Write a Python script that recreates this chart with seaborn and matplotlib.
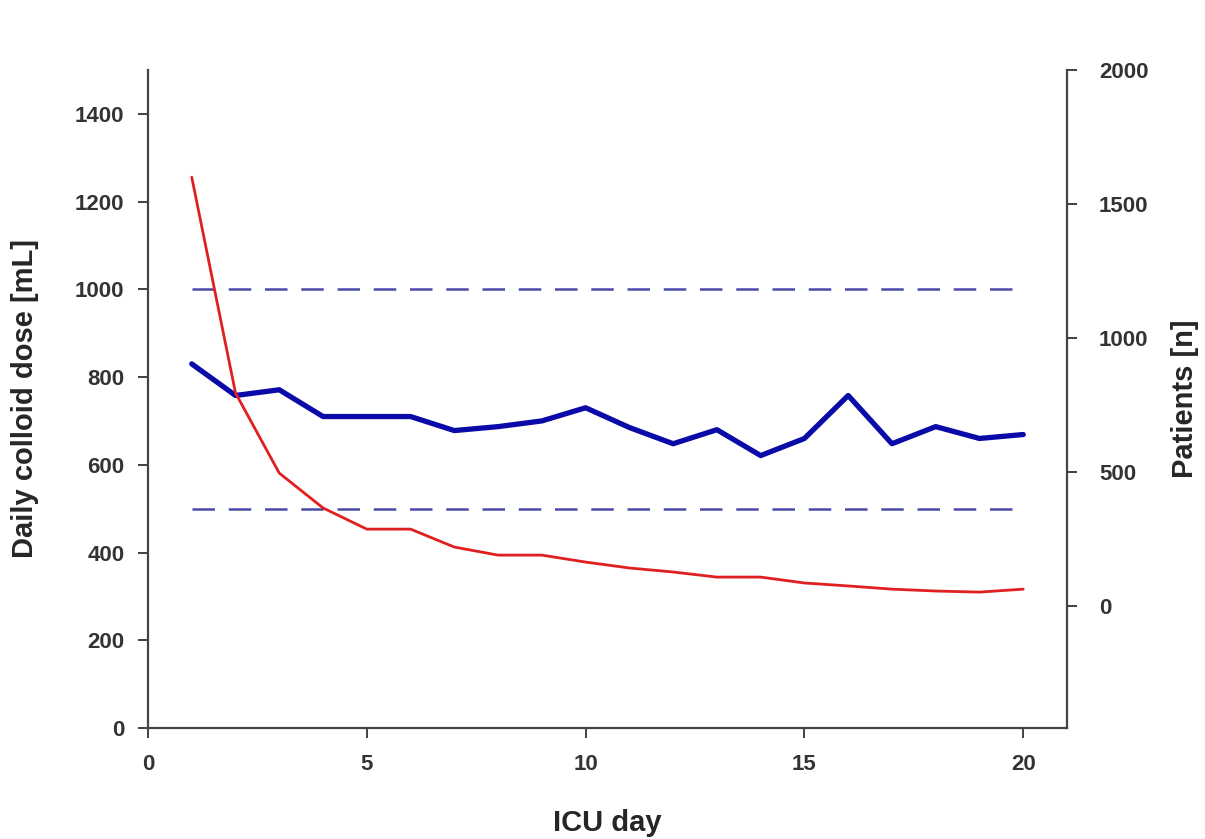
import numpy as np
import pandas as pd
import seaborn as sns
import matplotlib.pyplot as plt

# values
days = list(range(1, 21))
colloid_dose = [830, 758, 771, 710, 710, 710, 678, 687, 700, 730,
                685, 648, 680, 621, 660, 758, 648, 687, 660, 669]
patients = [1600, 795, 496, 366, 287, 287, 220, 190, 190, 164,
            142, 127, 108, 108, 86, 75, 63, 56, 52, 63]
ref_lines = [1000, 500]

left_ticks = [0, 200, 400, 600, 800, 1000, 1200, 1400]
right_ticks = [0, 500, 1000, 1500, 2000]
x_ticks = [0, 5, 10, 15, 20]

df = pd.DataFrame({'day': days, 'dose': colloid_dose, 'patients': patients})

sns.set_style('ticks')
plt.rcParams['font.family'] = ['Liberation Sans', 'DejaVu Sans']
plt.rcParams['font.weight'] = 'bold'

fig = plt.figure(figsize=(12.05, 8.39), dpi=100)
ax = fig.add_axes([0.1228, 0.1323, 0.7627, 0.7843])
ax2 = ax.twinx()

# reference band lines
for v in ref_lines:
    ax.plot([days[0], days[-1]], [v, v], color='#4a4aa8', lw=1.8,
            dashes=(9, 5.5))

sns.lineplot(data=df, x='day', y='dose', ax=ax, color='#0a0aa8', lw=3.8)
sns.lineplot(data=df, x='day', y='patients', ax=ax2, color='#e02020', lw=2.0)

ax.set_xlim(0, 21)
ax.set_ylim(0, 1500)
ax2.set_ylim(-455, 2000)
ax.set_xticks(x_ticks)
ax.set_yticks(left_ticks)
ax2.set_yticks(right_ticks)

ax.set_xlabel('ICU day', fontsize=21, fontweight='bold', labelpad=24)
ax.set_ylabel('Daily colloid dose [mL]', fontsize=21, fontweight='bold', labelpad=26)
ax2.set_ylabel('Patients [n]', fontsize=21, fontweight='bold', labelpad=16)

for a in (ax, ax2):
    a.tick_params(labelsize=16, length=7, width=1.3, color='#333333',
                  labelcolor='#333333', pad=10)
    for lbl in a.get_xticklabels() + a.get_yticklabels():
        lbl.set_fontweight('bold')
    a.spines['top'].set_visible(False)
    for s in ('left', 'right', 'bottom'):
        a.spines[s].set_color('#444444')
        a.spines[s].set_linewidth(1.6)
ax.tick_params(axis='x', pad=12)
ax2.tick_params(axis='y', pad=16)

ax.spines['right'].set_visible(False)
ax2.spines['left'].set_visible(False)
ax2.spines['bottom'].set_visible(False)

fig.savefig('out.png', dpi=100)
